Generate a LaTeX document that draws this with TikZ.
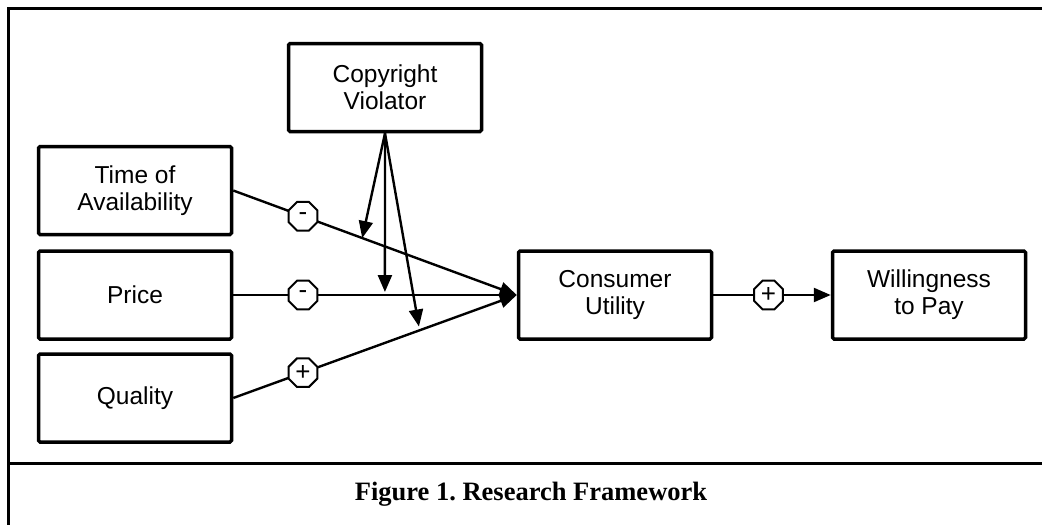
\documentclass[tikz,border=0pt]{standalone}
\usepackage{fontspec}
\setmainfont{Liberation Sans}
\newfontfamily\capfont{Liberation Serif}
\usetikzlibrary{arrows.meta,shapes.geometric,calc}
\begin{document}
\frenchspacing
\begin{tikzpicture}[x=1pt,y=-1pt,
  boxnode/.style={draw,line width=3.5pt,rounded corners=1.5pt,minimum width=193pt,minimum height=88pt,
    align=center,font=\fontsize{24.5}{27}\selectfont,inner sep=0pt},
  signnode/.style={draw,fill=white,line width=2pt,regular polygon,regular polygon sides=8,
    minimum size=31pt,inner sep=0pt,font=\fontsize{26}{26}\selectfont},
  arr/.style={line width=2.4pt,-{Triangle[length=17pt,width=14pt]}},
  frameline/.style={line width=3pt}]
\useasboundingbox (0,0) rectangle (1042,525);
% frame
\draw[frameline] (8,525) -- (8,8) -- (1045,8);
\draw[frameline] (8,463) -- (1045,463);
% boxes
\node[boxnode] (CV) at (385,87.5) {Copyright\\Violator};
\node[boxnode] (T) at (135,190.5) {Time of\\Availability};
\node[boxnode] (P) at (135,295) {Price};
\node[boxnode] (Q) at (135,398) {Quality};
\node[boxnode] (C) at (615,295) {Consumer\\Utility};
\node[boxnode] (W) at (929,295) {Willingness\\to Pay};
% main links
\draw[arr] (T.east) -- (C.west);
\draw[arr] (P.east) -- (C.west);
\draw[arr] (Q.east) -- (C.west);
\draw[arr] (C.east) -- (W.west);
% moderation
\coordinate (mT) at ($(T.east)!0.455!(C.west)$);
\coordinate (mP) at ($(P.east)!0.535!(C.west)+(0,-3)$);
\coordinate (mQ) at ($(Q.east)!0.655!(C.west)+(0,-4)$);
\draw[arr] (CV.south) -- (mT);
\draw[arr] (CV.south) -- (mP);
\draw[arr] (CV.south) -- (mQ);
% signs
\node[signnode] (sT) at ($(T.east)!0.246!(C.west)$) {-};
\node[signnode] (sP) at ($(P.east)!0.246!(C.west)$) {-};
\node[signnode] (sQ) at ($(Q.east)!0.246!(C.west)$) {+};
\node[signnode] (sC) at ($(C.east)!0.47!(W.west)$) {+};
% caption
\node[font=\capfont\bfseries\fontsize{26.5}{30}\selectfont] (cap) at (531,494) {Figure 1. Research Framework};
\end{tikzpicture}
\end{document}
